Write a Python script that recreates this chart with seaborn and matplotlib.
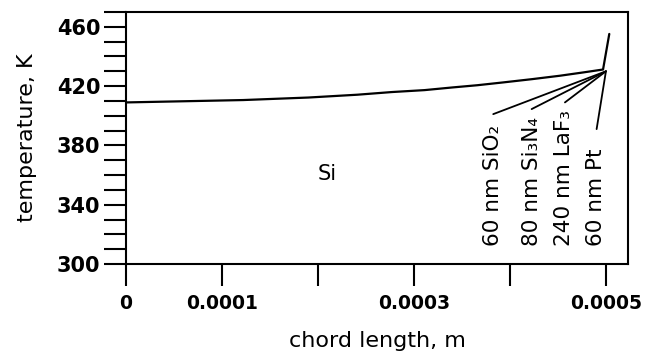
import numpy as np
import pandas as pd
import matplotlib
matplotlib.use("Agg")
import matplotlib.pyplot as plt
import seaborn as sns

# Temperature profile along the chord
chord_m = [0, 0.000122, 0.000190, 0.000241, 0.000277, 0.000311, 0.000340,
           0.000366, 0.000393, 0.000423, 0.000452, 0.000476, 0.000497, 0.0005035]
temp_K = [409.0, 410.6, 412.3, 414.2, 416.0, 417.3, 419.1,
          420.6, 422.5, 424.7, 427.0, 429.2, 431.2, 455.2]

# Layer labels and where their leader lines end
layer_labels = ["60 nm SiO₂", "80 nm Si₃N₄", "240 nm LaF₃", "60 nm Pt"]
layer_text_x = [0.000382, 0.000423, 0.000456, 0.000490]
leader_end_x = [0.0003826, 0.0004226, 0.0004573, 0.0004903]
leader_end_y = [401.1, 404.5, 409.0, 391.0]
leader_anchor = (0.0005, 430.0)

x_ticks = [0, 0.0001, 0.0002, 0.0003, 0.0004, 0.0005]
x_tick_labels = ["0", "0.0001", "", "0.0003", "", "0.0005"]
y_ticks = [300, 340, 380, 420, 460]

df = pd.DataFrame({"chord": chord_m, "temp": temp_K})

sns.set_style("ticks")
plt.rcParams["font.family"] = ["DejaVu Sans"]
plt.rcParams["text.color"] = "black"
plt.rcParams["axes.labelcolor"] = "black"
plt.rcParams["xtick.color"] = "black"
plt.rcParams["ytick.color"] = "black"

fig = plt.figure(figsize=(6.52, 3.52), dpi=100)
ax = fig.add_axes([126 / 652, 1 - 264 / 352, (628 - 126) / 652, (264 - 12) / 352])

sns.lineplot(data=df, x="chord", y="temp", color="black", linewidth=1.6,
             estimator=None, sort=False, ax=ax)

# leader lines and rotated layer labels
for lab, tx, ex, ey in zip(layer_labels, layer_text_x, leader_end_x, leader_end_y):
    ax.plot([leader_anchor[0], ex], [leader_anchor[1], ey], color="black", linewidth=1.3)
    ax.text(tx, 312, lab, rotation=90, ha="center", va="bottom", fontsize=15.5)

ax.text(0.000210, 360.5, "Si", ha="center", va="center", fontsize=15)

ax.set_xlim(0, 0.000523)
ax.set_ylim(300, 470)
ax.set_xticks(x_ticks)
ax.set_xticklabels(x_tick_labels)
ax.set_yticks(y_ticks)
ax.set_yticks(np.arange(300, 471, 10), minor=True)

for s in ax.spines.values():
    s.set_linewidth(1.5)
    s.set_color("black")

ax.tick_params(axis="both", which="both", direction="out", length=15.5,
               width=1.5, color="black")
ax.tick_params(axis="x", pad=6)
ax.tick_params(axis="y", pad=3)
for t in ax.get_xticklabels():
    t.set_fontsize(13.5)
    t.set_fontweight("bold")
for t in ax.get_yticklabels():
    t.set_fontsize(15)
    t.set_fontweight("bold")

ax.set_xlabel("chord length, m", fontsize=16, labelpad=13)
ax.set_ylabel("temperature, K", fontsize=16, labelpad=14)

fig.savefig("out.png", dpi=100)
